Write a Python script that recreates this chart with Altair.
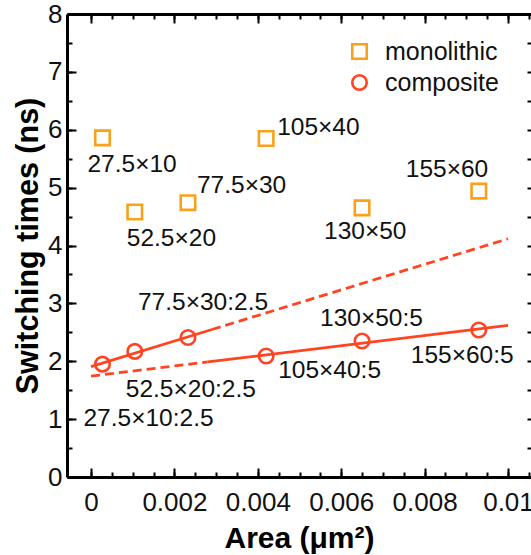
import altair as alt
import pandas as pd

# Device footprints (nm x nm), area in um^2, switching times in ns
dims = ["27.5×10", "52.5×20", "77.5×30", "105×40", "130×50", "155×60"]
area = [0.000275, 0.00105, 0.002325, 0.0042, 0.0065, 0.0093]
mono_time = [5.86, 4.58, 4.74, 5.85, 4.65, 4.94]
comp_time = [1.95, 2.17, 2.41, 2.09, 2.35, 2.54]
comp_ratio = ["2.5", "2.5", "2.5", "5", "5", "5"]
fit_group = ["a", "a", "a", "b", "b", "b"]

series_names = ["monolithic", "composite"]
x_ticks = [0, 0.002, 0.004, 0.006, 0.008, 0.01]
x_minor = [i * 0.0005 for i in range(22)]
y_ticks = [0, 1, 2, 3, 4, 5, 6, 7, 8]
y_minor = [i * 0.5 for i in range(17)]

ORANGE = "#F9A11B"
RED = "#FF4422"
FONT = "Liberation Sans"

rows = []
for d, a, t in zip(dims, area, mono_time):
    rows.append({"series": "monolithic", "area": a, "time": t, "text": d, "fit": ""})
for d, a, t, r, g in zip(dims, area, comp_time, comp_ratio, fit_group):
    rows.append({"series": "composite", "area": a, "time": t, "text": f"{d}:{r}", "fit": g})
df = pd.DataFrame(rows)
comp_df = df[df.series == "composite"]

xs = alt.Scale(domain=[-0.000576, 0.010552], nice=False, zero=False)
ys = alt.Scale(domain=[0, 8], nice=False, zero=False)


def enc(xaxis=None, yaxis=None):
    return dict(
        x=alt.X("area:Q", scale=xs, axis=xaxis),
        y=alt.Y("time:Q", scale=ys, axis=yaxis),
    )


# ---- frame, labels and inward ticks built from several axes ----
tick_style = dict(labels=False, domain=False, grid=False, title=None,
                  tickColor="black", tickWidth=2)

main_x = alt.Axis(orient="bottom", values=x_ticks, format="~g", ticks=False, tickSize=0,
                  domain=True, domainColor="black", domainWidth=3, grid=False,
                  labelFontSize=26, labelColor="#111", labelPadding=12, labelFlush=False,
                  title="Area (μm²)", titleFontSize=30, titleFontWeight="bold",
                  titleColor="black", titleY=70, titleBaseline="alphabetic")
main_y = alt.Axis(orient="left", values=y_ticks, ticks=False, tickSize=0,
                  domain=True, domainColor="black", domainWidth=3, grid=False,
                  labelFontSize=26, labelColor="#111", labelPadding=5,
                  title="Switching times (ns)", titleFontSize=30.5, titleFontWeight="bold",
                  titleColor="black", titleX=-30, titleBaseline="alphabetic")

axis_pairs = [
    (main_x, main_y),
    (alt.Axis(orient="bottom", values=x_ticks, offset=-9, tickSize=9, **tick_style),
     alt.Axis(orient="left", values=y_ticks, offset=-9, tickSize=9, **tick_style)),
    (alt.Axis(orient="bottom", values=x_minor, offset=-5, tickSize=5, **tick_style),
     alt.Axis(orient="left", values=y_minor, offset=-5, tickSize=5, **tick_style)),
    (alt.Axis(orient="top", values=x_ticks, ticks=False, labels=False, grid=False, title=None,
              domain=True, domainColor="black", domainWidth=3),
     alt.Axis(orient="right", values=y_minor, offset=-4, tickSize=4, **tick_style)),
    (alt.Axis(orient="top", values=x_ticks, offset=-9, tickSize=9, **tick_style), None),
    (alt.Axis(orient="top", values=x_minor, offset=-5, tickSize=5, **tick_style), None),
]
axis_layers = [
    alt.Chart(df).mark_point(opacity=0).encode(**enc(xa, ya)) for xa, ya in axis_pairs
]


# ---- fitted trend lines: solid over the fitted range, dashed as extrapolation ----
def fit_line(group, lo, hi, dashed):
    style = {"strokeDash": [9, 5]} if dashed else {}
    return (
        alt.Chart(comp_df)
        .transform_filter(alt.datum.fit == group)
        .transform_regression("area", "time", extent=[lo, hi])
        .mark_line(color=RED, strokeWidth=2.8, strokeCap="butt", **style)
        .encode(**enc())
    )


lines = [
    fit_line("a", 0.0, 0.0029, False),
    fit_line("a", 0.0029, 0.01, True),
    fit_line("b", 0.0, 0.0028, True),
    fit_line("b", 0.0028, 0.01, False),
]

# ---- markers with legend ----
legend = alt.Legend(title=None, orient="none", legendX=280, legendY=25,
                    labelFontSize=25, labelColor="#111", labelOffset=13,
                    symbolSize=210, symbolStrokeWidth=2.6, rowPadding=5, padding=0)
points = alt.Chart(df).mark_point(filled=False, size=210, strokeWidth=2.6, opacity=1).encode(
    **enc(),
    color=alt.Color("series:N", scale=alt.Scale(domain=series_names, range=[ORANGE, RED]),
                    legend=legend),
    shape=alt.Shape("series:N", scale=alt.Scale(domain=series_names, range=["square", "circle"]),
                    legend=legend),
)

# ---- point annotations: pixel offsets of each label from its marker ----
label_offsets = {
    "27.5×10": (-15, 27), "52.5×20": (-8, 27), "77.5×30": (9, -17),
    "105×40": (11, -10), "130×50": (-38, 24), "155×60": (-73, -21),
    "27.5×10:2.5": (-19, 55), "52.5×20:2.5": (-9, 39), "77.5×30:2.5": (-50, -35),
    "105×40:5": (12, 15), "130×50:5": (-42, -22), "155×60:5": (-68, 26),
}
labels = [
    alt.Chart(df).transform_filter(alt.datum.text == t)
    .mark_text(align="left", baseline="middle", fontSize=24.5, color="#111", dx=dx, dy=dy)
    .encode(**enc(), text="text:N")
    for t, (dx, dy) in label_offsets.items()
]

chart = (
    alt.layer(*axis_layers, *lines, points, *labels)
    .resolve_axis(x="independent", y="independent")
    .properties(width=464, height=463,
                padding={"left": 67, "top": 14, "right": 0, "bottom": 78},
                autosize=alt.AutoSizeParams(type="none"), background="white")
    .configure(font=FONT)
    .configure_view(stroke=None)
)

chart.save("out.html", embed_options={"renderer": "svg", "actions": False})
